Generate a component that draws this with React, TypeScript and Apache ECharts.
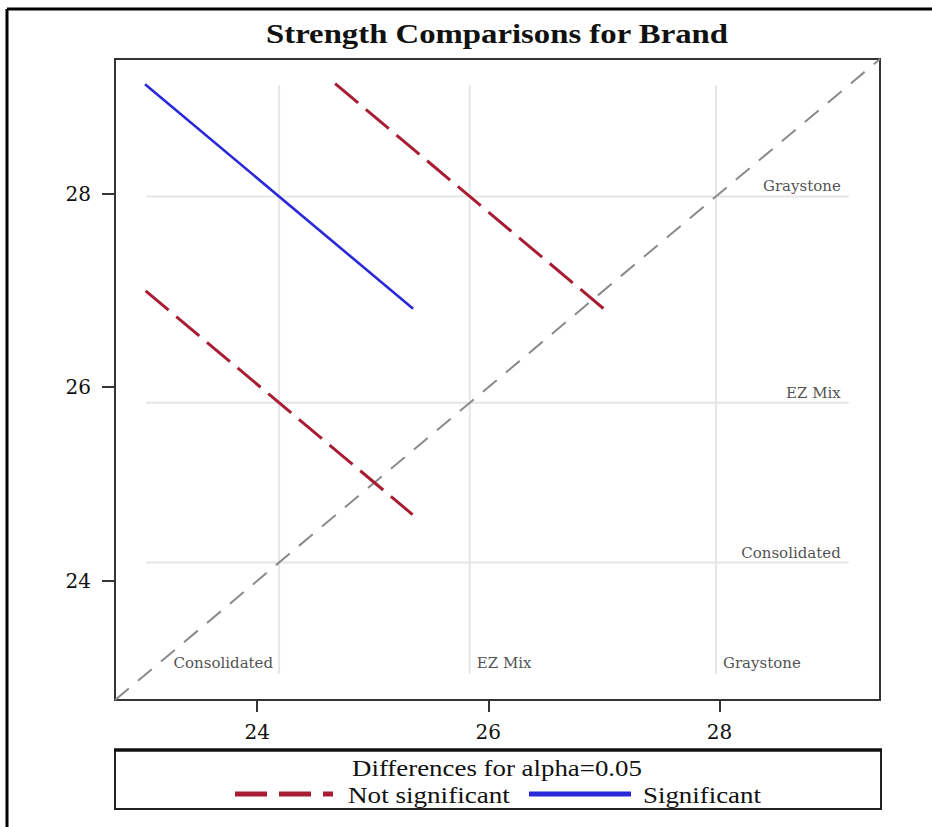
import React, { useEffect, useRef } from "react";
import * as echarts from "echarts";

const titleText = "Strength Comparisons for Brand";
const brands = ["Consolidated", "EZ Mix", "Graystone"];
const lsMeans = [24.19, 25.84, 27.97];
// each pair: [brand on x, brand on y]
const pairs = [
  [0, 2],
  [1, 2],
  [0, 1],
];
const significant = [true, false, false];
const ciHalfWidth = [1.16, 1.165, 1.155];
const refRange = [23.04, 29.12];
const axisRange = [22.77, 29.39];
const xTicks = [24, 26, 28];
const yTicks = [24, 26, 28];
const legendTitle = "Differences for alpha=0.05";
const legendLabels = ["Not significant", "Significant"];

const RED = "#A81D33";
const BLUE = "#2929D9";
const SERIF = "Liberation Serif";
const LABEL_FONT = "DejaVu Serif";

export default function App() {
  const ref = useRef<HTMLDivElement>(null);

  useEffect(() => {
    document.body.style.margin = "0";
    if (!ref.current) return;
    const chart = echarts.init(ref.current, null, { renderer: "svg" });

    const refLineSeries: any[] = [];
    brands.forEach((b, i) => {
      refLineSeries.push({
        type: "line",
        name: b + " v",
        data: [
          [lsMeans[i], refRange[1]],
          [lsMeans[i], refRange[0]],
        ],
        symbol: "none",
        silent: true,
        z: 1,
        lineStyle: { color: "#e6e6e6", width: 2 },
      });
      refLineSeries.push({
        type: "line",
        name: b + " h",
        data: [
          [refRange[0], lsMeans[i]],
          [refRange[1], lsMeans[i]],
        ],
        symbol: "none",
        silent: true,
        z: 1,
        lineStyle: { color: "#e6e6e6", width: 2 },
      });
    });

    const segSeries = pairs.map((p, k) => {
      const mx = lsMeans[p[0]];
      const my = lsMeans[p[1]];
      const h = ciHalfWidth[k];
      return {
        type: "line",
        name: significant[k] ? legendLabels[1] : legendLabels[0],
        data: [
          [mx - h, my + h],
          [mx + h, my - h],
        ],
        symbol: "none",
        z: 5,
        lineStyle: significant[k]
          ? { color: BLUE, width: 2.6, type: "solid" }
          : { color: RED, width: 3, type: [30, 10], cap: "butt" },
      };
    });

    const labelStyle = {
      show: true,
      fontFamily: LABEL_FONT,
      fontSize: 15,
      color: "#222",
      formatter: (p: any) => p.name,
    };

    const bottomLabels = {
      type: "scatter",
      name: "bottomLabels",
      symbolSize: 0,
      silent: true,
      z: 6,
      data: brands.map((b, i) => ({
        name: b,
        value: [lsMeans[i], refRange[0]],
        label: {
          ...labelStyle,
          position: i === 0 ? "left" : "right",
          distance: i === 0 ? 6 : 7,
          offset: [0, -11],
        },
      })),
    };

    const rightLabels = {
      type: "scatter",
      name: "rightLabels",
      symbolSize: 0,
      silent: true,
      z: 6,
      data: brands.map((b, i) => ({
        name: b,
        value: [refRange[1], lsMeans[i]],
        label: {
          ...labelStyle,
          position: "left",
          distance: 8,
          offset: [0, -10],
        },
      })),
    };

    const diagonal = {
      type: "line",
      name: "diagonal",
      data: [
        [axisRange[0], axisRange[0]],
        [axisRange[1], axisRange[1]],
      ],
      symbol: "none",
      silent: true,
      z: 2,
      lineStyle: { color: "#8a8a8a", width: 2, type: [18, 12] },
    };

    const axisCommon = {
      type: "value",
      min: axisRange[0],
      max: axisRange[1],
      splitLine: { show: false },
      axisLine: { show: true, lineStyle: { color: "#333", width: 2 } },
    };

    chart.setOption({
      animation: false,
      backgroundColor: "#fff",
      grid: {
        left: 115,
        right: 52,
        top: 59,
        bottom: 127,
        show: true,
        borderColor: "#333",
        borderWidth: 2,
        backgroundColor: "transparent",
      },
      xAxis: {
        ...axisCommon,
        axisTick: {
          show: true,
          length: 12,
          customValues: xTicks,
          lineStyle: { color: "#333", width: 2 },
        },
        axisLabel: {
          customValues: xTicks,
          fontFamily: LABEL_FONT,
          fontSize: 20,
          color: "#111",
          margin: 22,
        },
      },
      yAxis: {
        ...axisCommon,
        axisTick: {
          show: true,
          length: 13,
          customValues: yTicks,
          lineStyle: { color: "#333", width: 2 },
        },
        axisLabel: {
          customValues: yTicks,
          fontFamily: LABEL_FONT,
          fontSize: 20,
          color: "#111",
          margin: 24,
        },
      },
      series: [...refLineSeries, diagonal, ...segSeries, bottomLabels, rightLabels],
      graphic: [
        // outer frame
        {
          type: "line",
          shape: { x1: 7, y1: 9, x2: 932, y2: 9 },
          style: { stroke: "#000", lineWidth: 3 },
        },
        {
          type: "line",
          shape: { x1: 7, y1: 9, x2: 7, y2: 827 },
          style: { stroke: "#000", lineWidth: 3 },
        },
        // title
        {
          type: "text",
          x: 497,
          y: 34,
          scaleX: 1.17,
          style: {
            text: titleText,
            fontFamily: SERIF,
            fontWeight: "bold",
            fontSize: 28,
            fill: "#111",
            align: "center",
            verticalAlign: "middle",
          },
        },
        // legend box
        {
          type: "rect",
          shape: { x: 115, y: 750, width: 766, height: 59 },
          style: { fill: "#fff", stroke: "#222", lineWidth: 2 },
        },
        {
          type: "line",
          shape: { x1: 114, y1: 750, x2: 882, y2: 750 },
          style: { stroke: "#111", lineWidth: 3.5 },
        },
        {
          type: "text",
          x: 497,
          y: 768,
          scaleX: 1.12,
          style: {
            text: legendTitle,
            fontFamily: SERIF,
            fontSize: 24,
            fill: "#111",
            align: "center",
            verticalAlign: "middle",
          },
        },
        {
          type: "line",
          shape: { x1: 235, y1: 794, x2: 333, y2: 794 },
          style: { stroke: RED, lineWidth: 5, lineDash: [32, 12] },
        },
        {
          type: "text",
          x: 348,
          y: 795,
          scaleX: 1.13,
          style: {
            text: legendLabels[0],
            fontFamily: SERIF,
            fontSize: 24,
            fill: "#111",
            align: "left",
            verticalAlign: "middle",
          },
        },
        {
          type: "line",
          shape: { x1: 529, y1: 794, x2: 631, y2: 794 },
          style: { stroke: BLUE, lineWidth: 5 },
        },
        {
          type: "text",
          x: 643,
          y: 795,
          scaleX: 1.12,
          style: {
            text: legendLabels[1],
            fontFamily: SERIF,
            fontSize: 24,
            fill: "#111",
            align: "left",
            verticalAlign: "middle",
          },
        },
      ],
    });

    return () => chart.dispose();
  }, []);

  return <div ref={ref} style={{ width: 932, height: 827 }} />;
}
